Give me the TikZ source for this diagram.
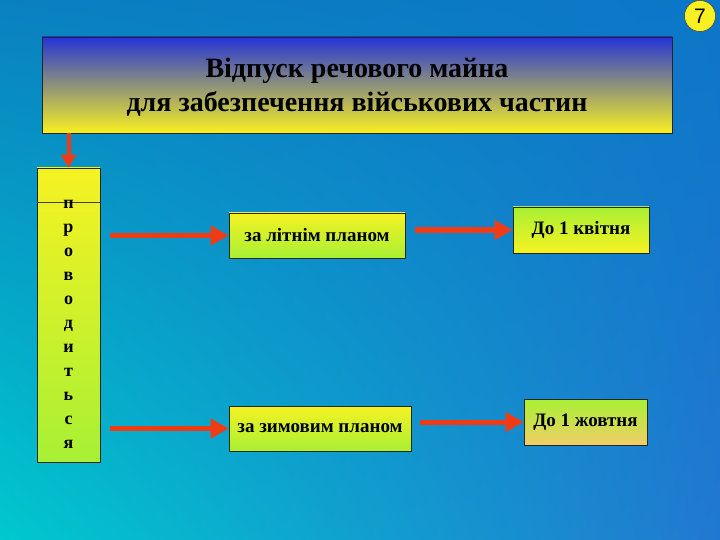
\documentclass[tikz,border=0pt]{standalone}
\usepackage{fontspec}
\setmainfont{Liberation Serif}
\newfontfamily\numfont{Liberation Sans}
\usetikzlibrary{positioning,arrows.meta,shadings}

\definecolor{bgtl}{RGB}{10,128,192}
\definecolor{bgtr}{RGB}{12,118,200}
\definecolor{bgbl}{RGB}{0,200,206}
\definecolor{bgbr}{RGB}{34,120,208}
\definecolor{titleblue}{RGB}{36,52,214}
\definecolor{titleyellow}{RGB}{248,240,32}
\definecolor{boxyellow}{RGB}{246,242,34}
\definecolor{boxgreen}{RGB}{168,240,52}
\definecolor{boxorange}{RGB}{240,206,104}
\definecolor{redarrow}{RGB}{240,60,20}

\begin{document}
\begin{tikzpicture}[x=1pt, y=-1pt,
    every node/.style={align=center, inner sep=2pt},
    box/.style={draw=black!85, line width=0.8pt, font=\fontsize{19}{22}\selectfont\bfseries},
    titlebox/.style={box, top color=titleblue, bottom color=titleyellow,
                     minimum width=630pt, minimum height=96pt, text depth=0pt,
                     font=\fontsize{28}{34}\selectfont\bfseries},
    planbox/.style={box, top color=boxyellow, bottom color=boxgreen,
                    minimum height=45pt},
    datebox/.style={box, top color=boxgreen, bottom color=boxyellow,
                    minimum height=46pt},
    arrow/.style={-{Triangle[length=18pt, width=19pt]}, line width=5pt, draw=redarrow},
  ]
    \shade[upper left=bgtl, upper right=bgtr, lower left=bgbl, lower right=bgbr]
      (0,0) rectangle (720,540);
    \useasboundingbox (0,0) rectangle (720,540);

    \node[circle, draw=black!80, fill=titleyellow, minimum size=31pt, inner sep=0pt,
          font=\numfont\fontsize{21}{21}\selectfont] (num) at (700,16) {7};

    \node[titlebox] (title) at (357,85)
      {Відпуск речового майна\\для забезпечення військових частин};

    \node[box, top color=boxyellow, bottom color=boxgreen,
          minimum width=63pt, minimum height=294pt] (vert) at (68.5,315) {};
    \draw[black!75, thin] ([yshift=-35pt]vert.north west) -- ([yshift=-35pt]vert.north east);
    \node[font=\fontsize{18}{24}\selectfont\bfseries] (word) at ([yshift=-9pt]vert.center)
      {п\\р\\о\\в\\о\\д\\и\\т\\ь\\с\\я};

    \node[planbox, minimum width=176pt] (summer) at (317,235.5) {за літнім планом};
    \node[datebox, minimum width=136pt] (april) at (581,230) {До 1 квітня};
    \node[planbox, minimum width=182pt] (winter) at (320,428.5) {за зимовим планом};
    \node[datebox, minimum width=123pt, bottom color=boxorange] (october) at (585.5,422)
      {До 1 жовтня};

    \draw[arrow, line width=4pt, -{Triangle[length=13pt, width=15pt]}]
      (vert.north |- title.south) -- (vert.north);
    \draw[arrow, shorten <=10pt] (vert.east |- summer.west) -- (summer.west);
    \draw[arrow, shorten <=10pt] (summer.east |- april.west) -- (april.west);
    \draw[arrow, shorten <=10pt] (vert.east |- winter.west) -- (winter.west);
    \draw[arrow, shorten <=9pt] (winter.east |- october.west) -- (october.west);
  \end{tikzpicture}
\end{document}
